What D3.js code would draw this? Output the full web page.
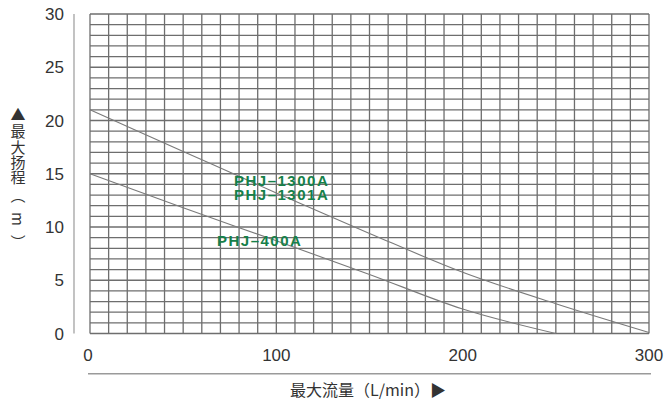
<!DOCTYPE html>
<html><head><meta charset="utf-8">
<script src="https://cdn.jsdelivr.net/npm/d3@7"></script>
<style>
html,body{margin:0;padding:0;background:#fff;}
svg{display:block;}
</style>
</head><body>
<svg id="c" width="672" height="403"></svg>
<script>
// Data
const flowA = [0, 50, 100, 150, 200, 250, 300];
const headA = [21, 17.1, 13.2, 9.4, 5.75, 2.8, 0.1];
const flowB = [0, 50, 100, 150, 200, 250];
const headB = [15, 11.8, 8.7, 5.55, 2.3, 0];
const yTicks = [0, 5, 10, 15, 20, 25, 30];
const xTicks = [0, 100, 200, 300];
const labelsA = ["PHJ–1300A", "PHJ–1301A"];
const labelB = "PHJ–400A";
const yTitle = "最大扬程";
const yUnit = "（m）";
const xTitle = "最大流量（L/min）▶";

const svg = d3.select("#c");
const x = d3.scaleLinear().domain([0, 300]).range([90, 649]);
const y = d3.scaleLinear().domain([0, 30]).range([333.5, 14]);
const font = "'Liberation Sans', Arial, sans-serif";
const cjk = "'Noto Sans CJK SC', sans-serif";

// grid
const g = svg.append("g");
g.selectAll("line.v").data(d3.range(0, 301, 10)).join("line")
  .attr("x1", d => x(d)).attr("x2", d => x(d))
  .attr("y1", y(30)).attr("y2", y(0))
  .attr("stroke", "#6e6e6e").attr("stroke-width", 1.3);
g.selectAll("line.h").data(d3.range(0, 31, 1)).join("line")
  .attr("y1", d => y(d)).attr("y2", d => y(d))
  .attr("x1", x(0)).attr("x2", x(300))
  .attr("stroke", "#6e6e6e").attr("stroke-width", 1.3);

// curves
const line = d3.line().x(d => x(d[0])).y(d => y(d[1])).curve(d3.curveMonotoneX);
svg.append("path").datum(flowA.map((f, i) => [f, headA[i]]))
  .attr("d", line).attr("fill", "none").attr("stroke", "#7a7a7a").attr("stroke-width", 1.1);
svg.append("path").datum(flowB.map((f, i) => [f, headB[i]]))
  .attr("d", line).attr("fill", "none").attr("stroke", "#7a7a7a").attr("stroke-width", 1.1);

// axis lines
svg.append("line").attr("x1", 74).attr("x2", 74).attr("y1", y(30)).attr("y2", y(0))
  .attr("stroke", "#9a9a9a").attr("stroke-width", 1.2);
svg.append("line").attr("x1", 88).attr("x2", 651).attr("y1", 373.7).attr("y2", 373.7)
  .attr("stroke", "#9a9a9a").attr("stroke-width", 1.4);

// y tick labels
svg.selectAll("text.yt").data(yTicks).join("text")
  .attr("x", 64).attr("y", d => y(d)).attr("dy", "0.36em")
  .attr("text-anchor", "end").attr("font-family", font).attr("font-size", 17)
  .attr("fill", "#333").text(d => d);
// x tick labels
svg.selectAll("text.xt").data(xTicks).join("text")
  .attr("x", d => x(d) + (d === 0 ? -2 : 0)).attr("y", 355).attr("dy", "0.36em")
  .attr("text-anchor", "middle").attr("font-family", font).attr("font-size", 17)
  .attr("fill", "#333").text(d => d);

// series labels
const green = "#16804a";
svg.append("text").attr("y", 185.5)
  .attr("font-family", font).attr("font-weight", "bold").attr("font-size", 15)
  .attr("letter-spacing", 1.5).attr("fill", green)
  .selectAll("tspan").data(labelsA).join("tspan")
  .attr("x", 234).attr("dy", (d, i) => i === 0 ? 0 : 14.5).text(d => d);
svg.append("text").attr("x", 217).attr("y", 245.5)
  .attr("font-family", font).attr("font-weight", "bold").attr("font-size", 15)
  .attr("letter-spacing", 1.5).attr("fill", green).text(labelB);

// y title (vertical)
svg.append("text").attr("x", 18).attr("y", 107)
  .attr("writing-mode", "vertical-rl")
  .attr("font-family", cjk).attr("font-size", 15).attr("fill", "#333")
  .attr("letter-spacing", 0.4)
  .call(t => {
    t.append("tspan").text("▲");
    t.append("tspan").attr("dy", 2).text(yTitle);
    t.append("tspan").attr("dy", 2).attr("letter-spacing", 9).text(yUnit);
  });

// x title
svg.append("text").attr("x", 290).attr("y", 390).attr("dy", "0.35em")
  .attr("font-family", cjk).attr("font-size", 16).attr("fill", "#333")
  .text(xTitle);
</script>
</body></html>
